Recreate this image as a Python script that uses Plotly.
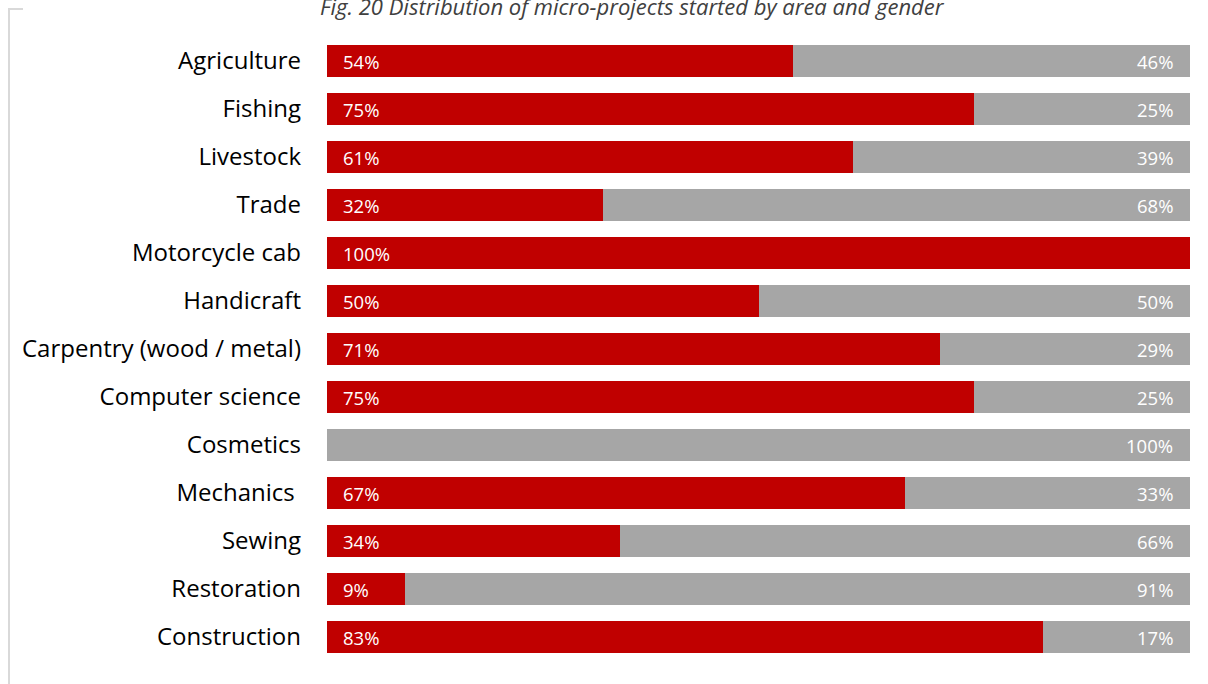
import plotly.graph_objects as go

# Share of micro-projects per area, split by gender (percent)
areas = [
    "Agriculture", "Fishing", "Livestock", "Trade", "Motorcycle cab",
    "Handicraft", "Carpentry (wood / metal)", "Computer science", "Cosmetics",
    "Mechanics ", "Sewing", "Restoration", "Construction",
]
men = [54, 75, 61, 32, 100, 50, 71, 75, 0, 67, 34, 9, 83]
women = [46, 25, 39, 68, 0, 50, 29, 25, 100, 33, 66, 91, 17]

RED = "#C00000"
GREY = "#A6A6A6"
W, H = 1208, 684
L, R, T, B = 327, 18, 37, 23

fig = go.Figure()
fig.add_trace(go.Bar(y=areas, x=men, orientation="h", name="Men",
                     marker=dict(color=RED, line=dict(width=0)),
                     hoverinfo="x+y"))
fig.add_trace(go.Bar(y=areas, x=women, orientation="h", name="Women",
                     marker=dict(color=GREY, line=dict(width=0)),
                     hoverinfo="x+y"))

label_font = dict(family="Open Sans", size=18.5, color="white")
annotations = []
for a, m, w in zip(areas, men, women):
    if m > 0:
        annotations.append(dict(x=0, y=a, text=f"{m}%", xref="x", yref="y",
                                xanchor="left", xshift=14, showarrow=False,
                                font=label_font))
    if w > 0:
        annotations.append(dict(x=m + w, y=a, text=f"{w}%", xref="x", yref="y",
                                xanchor="right", xshift=-15, showarrow=False,
                                font=label_font))

pw, ph = W - L - R, H - T - B
def px(x):
    return (x - L) / pw
def py(y):
    return 1 - (y - T) / ph

annotations.append(dict(
    x=px(632), y=py(5.5), xref="paper", yref="paper",
    text="<i>Fig. 20 Distribution of micro-projects started by area and gender</i>",
    showarrow=False, xanchor="center", yanchor="middle",
    font=dict(family="Open Sans", size=22, color="#404040"),
))

shapes = [
    dict(type="line", xref="paper", yref="paper", x0=px(9), x1=px(9),
         y0=py(8), y1=py(H + 5), line=dict(color="#D9D9D9", width=2)),
    dict(type="line", xref="paper", yref="paper", x0=px(8), x1=px(23),
         y0=py(9), y1=py(9), line=dict(color="#D9D9D9", width=2)),
]

fig.update_layout(
    width=W, height=H,
    margin=dict(l=L, r=R, t=T, b=B, pad=0),
    barmode="stack", bargap=0.333,
    plot_bgcolor="white", paper_bgcolor="white",
    showlegend=False,
    xaxis=dict(range=[0, 100], visible=False, fixedrange=True),
    yaxis=dict(categoryorder="array", categoryarray=areas, autorange="reversed",
               showgrid=False, showline=False, zeroline=False, ticks="",
               ticklabelstandoff=25,
               tickfont=dict(family="Open Sans", size=24, color="#000000")),
    annotations=annotations,
    shapes=shapes,
)

fig.write_html("out.html")
